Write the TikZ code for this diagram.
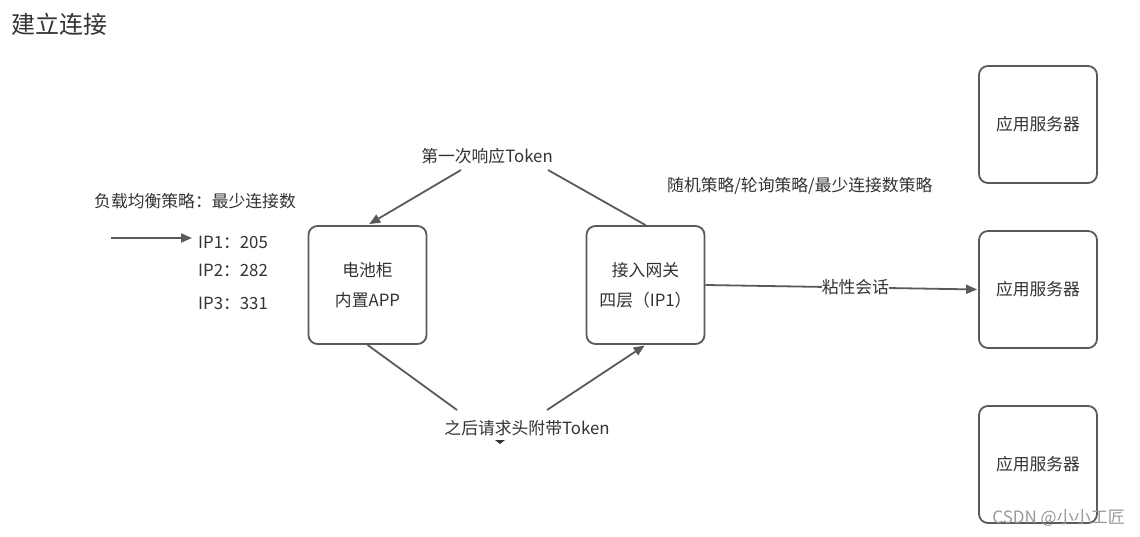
\documentclass[tikz,border=0pt]{standalone}
\usepackage{fontspec}
\setmainfont{Noto Sans CJK SC}
\usetikzlibrary{arrows.meta}
\definecolor{linec}{HTML}{5A5A5A}
\definecolor{textc}{HTML}{333333}
\definecolor{wmc}{HTML}{9A9A9A}
\begin{document}
\begin{tikzpicture}[x=1pt,y=-1pt,
  txt/.style={text=textc, font=\fontsize{16.8}{30}\selectfont, inner sep=0pt},
  box/.style={draw=linec, line width=1.8pt, rounded corners=9pt, minimum width=118pt, minimum height=118pt, inner sep=0pt, txt, align=center},
  conn/.style={draw=linec, line width=1.8pt},
  arr/.style={conn, -{Triangle[length=11pt,width=9pt]}}]
\fill[white] (0,0) rectangle (1140,537);
\useasboundingbox (0,0) rectangle (1140,537);

% title
\node[anchor=west, text=textc, font=\fontsize{24}{24}\selectfont, inner sep=0pt] (title) at (11,24) {建立连接};

% boxes
\node[box] (app) at (367.5,285) {电池柜\\内置APP};
\node[box] (gw) at (645.5,285) {接入网关\\四层（IP1）};
\node[box, minimum height=117pt] (s1) at (1038,124.5) {应用服务器};
\node[box, minimum height=117pt] (s2) at (1038,289.5) {应用服务器};
\node[box, minimum height=117pt] (s3) at (1038,464.5) {应用服务器};

% left labels
\node[txt] (lb) at (195,201) {负载均衡策略：最少连接数};
\node[txt, anchor=west] (ip1) at (198,242) {IP1：205};
\node[txt, anchor=west] (ip2) at (198,270) {IP2：282};
\node[txt, anchor=west] (ip3) at (198,303) {IP3：331};
\coordinate (a0) at (111,238);
\coordinate (a1) at (192,238);
\draw[arr] (a0) -- (a1);

% token labels
\node[txt] (tok1) at (487,156) {第一次响应Token};
\node[txt] (tok2) at (527,428) {之后请求头附带Token};
\coordinate (t1l) at (461,170);
\coordinate (t1r) at (548,170);
\coordinate (t2l) at (457,410);
\coordinate (t2r) at (547,410);
\draw[arr, shorten >=2pt] (t1l) -- (app.north);
\draw[conn] (gw.north) -- (t1r);
\draw[conn] (app.south) -- (t2l);
\draw[arr, shorten >=1pt] (t2r) -- (gw.south);
\fill[textc] (495,440) -- (505,440) -- (500,444) -- cycle;

% strategy label
\node[txt, anchor=west] (strat) at (667,186) {随机策略/轮询策略/最少连接数策略};

% sticky session
\draw[arr, shorten >=1pt] (gw.east) -- node[pos=0.55, fill=white, inner sep=1pt, txt] (sticky) {粘性会话} (s2.west);

% watermark
\node[anchor=east, text=wmc, font=\fontsize{17}{17}\selectfont, inner sep=0pt] (wm) at (1125,518) {CSDN @小小工匠};
\end{tikzpicture}
\end{document}
